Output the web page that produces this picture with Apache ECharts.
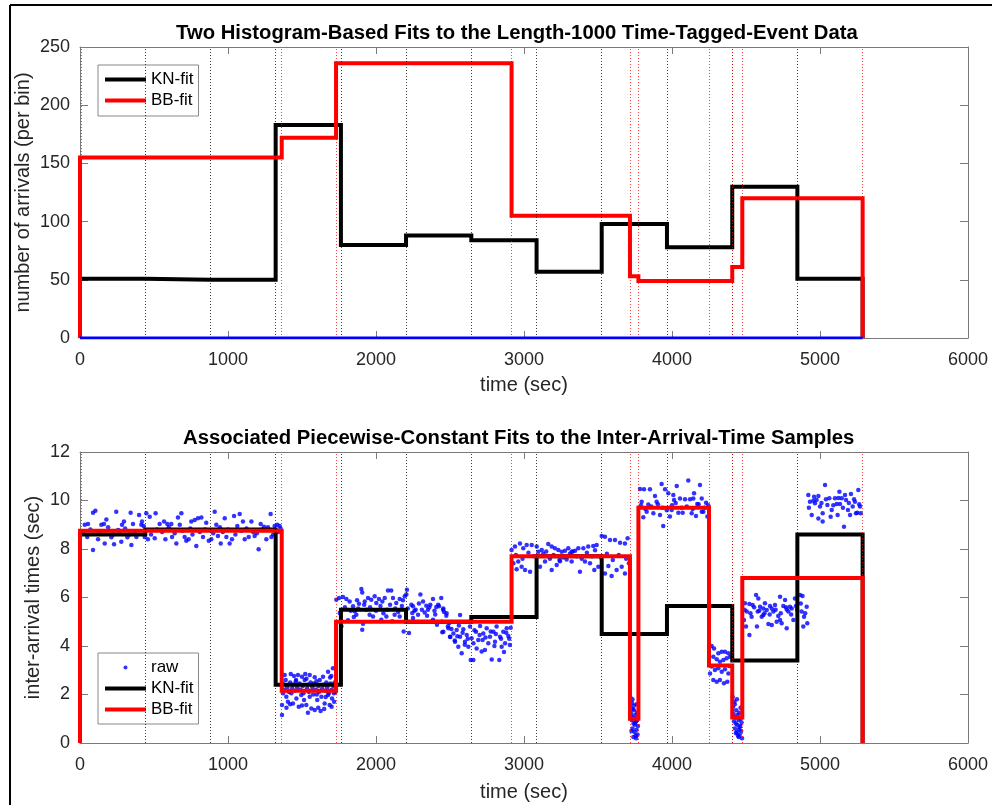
<!DOCTYPE html>
<html><head><meta charset="utf-8">
<script src="https://cdn.jsdelivr.net/npm/echarts@6/dist/echarts.min.js"></script>
<style>html,body{margin:0;padding:0;background:#fff}#c{width:992px;height:805px}</style>
</head><body><div id="c"></div>
<script>
// ---- data ----
const knEdges = [0,441,881,1322,1763,2203,2644,3085,3525,3966,4407,4847,5288];
const knCounts = [51,50,50,183,80,88,84,57,98,78,130,51];
const knIAT = [8.6,8.8,8.8,2.4,5.5,5.0,5.2,7.7,4.5,5.65,3.4,8.6];
const bbCountEdges = [0,1363,1730,2916,3716,3773,4407,4475,5288];
const bbCounts = [155,172,236,105,53,49,61,120];
const bbIATEdges = [0,1363,1730,2916,3716,3773,4250,4407,4475,5288];
const bbIAT = [8.75,2.15,5.0,7.7,1.0,9.7,3.2,1.05,6.8];
const knChangePoints = [441,881,1322,1763,2203,2644,3085,3525,3966,4407,4847];
const bbChangePoints = [7,1363,1730,2916,3716,3773,4250,4407,4475,5288];
const eventSpan = [0,5288];
const titles = ['Two Histogram-Based Fits to the Length-1000 Time-Tagged-Event Data',
                'Associated Piecewise-Constant Fits to the Inter-Arrival-Time Samples'];
const rawPoints = [
// segment 1
[32,9.0],[54,9.03],[88,9.5],[104,9.58],[49,8.5],[88,7.96],[122,8.4],[144,9.0],[162,9.03],[178,9.22],[167,8.23],[212,8.48],[230,8.2],[245,9.54],[257,8.78],[284,9.0],[297,9.13],[279,8.3],[320,8.48],[342,9.5],[347,8.16],[358,9.03],[381,8.5],[399,9.4],[414,9.0],[419,9.13],[437,8.5],[448,9.47],[471,9.33],[459,8.4],[511,9.47],[505,8.44],[538,9.03],[568,9.13],[590,9.03],[577,8.4],[617,9.03],[622,8.5],[651,8.23],[662,9.3],[674,9.0],[685,9.47],[707,8.5],[718,8.34],[734,8.4],[752,9.13],[775,9.2],[786,8.12],[797,9.27],[820,9.3],[831,8.5],[853,9.08],[870,8.34],[887,8.4],[910,9.54],[921,9.0],[932,8.54],[951,8.23],[978,9.27],[989,8.5],[1011,8.23],[1027,8.4],[1041,9.36],[1063,8.95],[1079,9.44],[1101,9.13],[1113,8.4],[1140,8.5],[1158,9.13],[1180,8.54],[1207,7.99],[1221,9.03],[1243,8.92],[1259,8.4],[1288,9.44],[1293,8.5],[1315,8.95],[1333,9.0],[1349,8.95],
[20,8.7],[70,8.8],[130,8.65],[190,8.9],[225,8.6],[265,8.75],[305,8.85],[335,8.6],[370,8.7],[430,8.95],[480,8.6],[520,8.8],[555,8.7],[600,8.9],[640,8.65],[690,8.75],[745,8.85],[760,8.6],[810,8.7],[845,8.8],[900,8.65],[945,8.9],[965,8.7],[1000,8.8],[1050,8.6],[1090,8.75],[1125,8.85],[1170,8.7],[1195,8.65],[1230,8.8],[1270,8.9],[1305,8.6],[1340,8.7],[1355,8.85],
// segment 2
[1383,2.8],[1424,2.85],[1446,2.76],[1473,2.8],[1500,2.73],[1522,2.85],[1552,2.8],[1586,2.71],[1642,2.73],[1676,2.94],[1698,2.76],[1709,3.08],[1372,2.05],[1365,1.57],[1365,1.15],[1394,1.91],[1405,1.7],[1428,2.05],[1439,1.63],[1462,1.84],[1478,1.5],[1495,1.98],[1514,1.77],[1529,1.57],[1552,1.91],[1563,1.42],[1586,1.36],[1603,1.77],[1626,1.32],[1631,1.91],[1653,1.63],[1676,1.98],[1687,1.57],[1703,1.84],[1716,2.05],
[1370,2.45],[1378,2.2],[1390,2.6],[1400,2.3],[1412,2.1],[1420,2.5],[1433,2.25],[1441,2.4],[1452,2.15],[1458,2.55],[1467,2.3],[1484,2.45],[1490,2.2],[1505,2.35],[1510,2.05],[1518,2.6],[1535,2.25],[1541,2.4],[1547,2.1],[1558,2.5],[1570,2.3],[1575,2.0],[1580,2.45],[1594,2.2],[1598,2.55],[1610,2.35],[1615,2.1],[1620,2.6],[1636,2.25],[1646,2.4],[1658,2.15],[1664,2.5],[1670,2.3],[1681,2.05],[1692,2.45],[1700,2.2],[1712,2.35],[1720,2.5],[1725,2.1],[1460,2.6],[1530,2.65],[1600,2.0],[1660,1.9],[1690,2.7],[1395,1.45],[1420,1.6],[1500,1.55],[1540,1.25],[1610,1.45],[1650,1.4],[1700,1.5],[1717,1.7],
// segment 3
[1732,5.91],[1750,5.98],[1777,6.02],[1800,5.94],[1822,5.84],[1845,5.64],[1872,5.89],[1885,5.74],[1901,6.35],[1907,6.21],[1924,5.84],[1935,5.5],[1946,5.98],[1968,5.91],[1991,6.05],[2002,5.77],[2020,5.94],[2043,5.84],[2059,5.98],[2081,6.29],[2103,6.29],[2115,5.98],[2137,5.77],[2160,5.94],[2182,5.89],[2194,6.05],[2205,6.12],[2209,6.32],[2239,5.7],[2250,5.64],[2268,5.5],[2300,6.12],[2318,5.84],[2340,5.66],[2351,5.5],[2367,5.7],[2385,5.94],[2407,5.61],[2426,5.64],[2441,5.98],[2453,5.5],[2475,5.25],
[1755,5.36],[1766,4.81],[1811,5.06],[1856,5.43],[1867,5.29],[1907,4.67],[1912,4.92],[1957,5.29],[1980,5.22],[2036,5.08],[2070,5.22],[2110,5.02],[2126,5.29],[2160,5.22],[2187,4.6],[2223,4.54],[2245,5.36],[2284,5.29],[2329,5.38],[2385,5.08],[2412,4.88],[2448,4.57],[2486,4.81],[2502,4.37],[2532,4.23],
[1790,5.6],[1830,5.45],[1880,5.55],[1920,5.7],[1960,5.6],[2000,5.45],[2030,5.65],[2075,5.5],[2095,5.7],[2130,5.55],[2150,5.4],[2175,5.65],[2215,5.55],[2260,5.45],[2290,5.75],[2310,5.5],[2360,5.6],[2395,5.45],[2420,5.7],[2460,5.4],[1850,5.2],[2050,5.35],[2250,5.15],[2345,5.25],[2400,5.3],
// segment 3b
[2455,5.55],[2477,5.35],[2568,5.28],[2444,5.0],[2455,4.59],[2489,4.73],[2500,4.38],[2523,4.52],[2534,4.18],[2545,4.66],[2556,3.97],[2568,4.38],[2579,3.7],[2590,4.69],[2601,4.18],[2613,4.45],[2624,3.97],[2635,4.8],[2640,3.42],[2646,4.32],[2658,3.42],[2658,4.11],[2676,4.59],[2691,4.25],[2703,4.82],[2714,3.77],[2725,4.52],[2736,3.84],[2748,4.73],[2759,4.11],[2770,4.38],[2782,3.44],[2793,4.59],[2804,4.18],[2815,4.8],[2833,3.42],[2838,4.38],[2849,3.97],[2860,4.59],[2872,4.11],[2883,4.73],[2894,4.41],[2905,4.04],
[2510,4.7],[2550,4.4],[2585,4.55],[2620,4.3],[2665,4.65],[2700,4.45],[2740,4.35],[2775,4.6],[2810,4.5],[2845,4.3],[2880,4.55],[2910,4.75],[2495,4.95],[2560,4.85],[2600,4.05],[2680,3.9],[2720,4.25],[2800,4.0],[2865,3.75],[2900,4.3],
// segment 4
[2916,7.96],[2939,8.1],[2973,8.23],[2995,8.03],[3018,8.16],[3052,8.16],[3086,8.1],[3097,7.89],[3120,7.96],[3164,8.21],[3187,8.1],[3209,8.03],[3232,7.96],[3255,7.89],[3277,7.93],[3299,8.03],[3322,7.89],[3345,7.93],[3367,8.03],[3401,8.03],[3434,8.1],[3468,8.12],[3491,8.16],[3525,8.54],[3547,8.51],[3581,8.37],[3615,8.37],[3649,8.26],[3682,8.23],[3700,8.44],
[2928,7.41],[2961,7.48],[2984,7.27],[3007,7.13],[3041,7.06],[2950,7.16],[3108,7.27],[3142,7.48],[3187,7.13],[3221,7.34],[3243,7.5],[3288,7.57],[3322,7.48],[3378,7.06],[3412,7.48],[3446,7.41],[3475,7.13],[3502,7.27],[3547,6.99],[3570,7.3],[3592,6.89],[3626,7.13],[3660,7.27],[3682,6.99],[3709,7.41],
[2945,7.75],[2990,7.6],[3030,7.85],[3065,7.7],[3130,7.8],[3175,7.6],[3200,7.75],[3265,7.65],[3310,7.8],[3355,7.7],[3390,7.6],[3425,7.85],[3460,7.7],[3520,7.65],[3560,7.8],[3600,7.55],[3640,7.75],[3690,7.6],[3150,7.9],[3240,7.55],[3330,7.9],[3480,7.95],
// segment 5
[3718,1.9],[3722,1.45],[3725,1.2],[3728,0.95],[3731,1.65],[3734,0.6],[3737,1.05],[3740,0.8],[3743,1.35],[3746,0.45],[3749,0.75],[3752,1.15],[3755,0.3],[3758,0.9],[3761,0.55],[3764,1.25],[3767,0.35],[3770,0.7],[3733,1.8],[3745,1.55],[3757,0.2],[3765,0.95],[3726,0.5],[3739,0.25],[3751,0.85],[3762,1.6],[3720,1.1],[3736,1.4],
// segment 6
[3784,10.47],[3811,10.46],[3851,10.46],[3795,9.95],[3840,9.84],[3806,9.31],[3829,9.54],[3885,10.19],[3896,9.95],[3874,9.47],[3919,9.4],[3930,10.68],[3953,10.46],[3941,8.95],[3975,10.3],[3986,9.34],[3998,9.61],[4009,10.23],[4014,10.02],[4032,10.6],[4043,9.5],[4054,10.08],[4072,9.5],[4088,10.05],[4110,10.82],[4122,10.05],[4133,9.47],[4149,10.3],[4144,10.08],[4162,9.36],[4171,9.86],[4189,10.64],[4201,9.54],[4212,9.54],[4230,9.91],[4239,9.34],[4201,10.08],
[3790,9.8],[3820,9.65],[3860,9.75],[3905,9.85],[3935,9.7],[3965,9.6],[4000,9.8],[4025,9.9],[4065,9.7],[4100,9.75],[4140,9.65],[4180,9.85],[4220,9.7],[4245,9.8],
// segment 7
[4268,4.0],[4284,3.9],[4313,3.7],[4336,3.76],[4358,3.76],[4381,3.7],[4279,3.56],[4302,3.45],[4324,3.35],[4347,3.42],[4369,3.49],[4392,3.56],[4268,3.15],[4290,3.01],[4313,3.08],[4336,2.94],[4358,3.04],[4381,2.87],[4279,2.6],[4302,2.53],[4324,2.6],[4351,2.46],[4374,2.53],[4257,2.87],[4387,3.18],
// segment 8
[4410,1.9],[4413,1.5],[4416,1.2],[4419,0.9],[4422,1.7],[4425,0.6],[4428,1.05],[4431,0.8],[4434,1.35],[4437,0.45],[4440,0.75],[4443,1.15],[4446,0.3],[4449,0.95],[4452,0.55],[4455,1.25],[4458,0.35],[4461,0.7],[4464,1.0],[4467,0.5],[4470,0.85],[4473,0.2],[4424,1.6],[4439,1.8],[4451,0.25],[4463,1.45],[4432,0.4],[4457,0.65],
// segment 9
[4493,5.76],[4505,5.42],[4486,5.07],[4500,4.8],[4523,4.45],[4523,5.73],[4545,5.69],[4538,5.21],[4568,6.1],[4574,4.8],[4579,5.42],[4583,5.96],[4595,5.62],[4606,5.21],[4617,5.55],[4628,5.76],[4640,5.48],[4651,4.91],[4662,5.65],[4674,4.87],[4685,5.42],[4696,5.69],[4707,5.0],[4718,5.24],[4730,6.03],[4741,4.94],[4752,5.65],[4764,5.9],[4775,4.73],[4786,5.42],[4797,5.62],[4809,5.55],[4820,5.07],[4831,5.96],[4838,5.65],[4865,6.1],[4876,5.42],[4882,6.06],[4892,5.21],[4910,5.62],[4914,4.94],[4887,4.8],[4617,5.28],[4674,5.55],[4775,5.51],[4730,5.07],
[4490,5.5],[4530,5.35],[4555,5.6],[4590,5.45],[4625,5.35],[4660,5.3],[4700,5.5],[4735,5.35],[4770,5.6],[4805,5.3],[4845,5.5],[4870,5.75],[4900,5.35],
// segment 10
[4921,10.23],[4932,9.95],[4944,9.4],[4955,9.99],[4966,9.89],[4977,10.02],[4989,10.19],[5000,9.75],[4989,9.26],[5018,9.13],[5018,9.47],[5034,10.64],[5050,9.81],[5063,10.09],[5072,9.33],[5079,9.61],[5101,10.09],[5113,9.86],[5119,9.4],[5131,10.36],[5135,9.86],[5147,10.09],[5162,8.92],[5169,10.23],[5176,10.02],[5189,9.61],[5203,9.4],[5209,10.27],[5221,9.75],[5236,9.95],[5243,9.47],[5252,9.5],[5259,10.43],[5270,9.75],[5275,9.47],
[4925,9.7],[4960,10.15],[5010,9.9],[5040,10.05],[5090,9.8],[5125,10.1],[5155,9.7],[5195,9.9],[5230,10.05],[5265,9.85]
];

// ---- build ----
function stairs(edges, vals){
  const d = [[edges[0],0]];
  for (let i=0;i<vals.length;i++){ d.push([edges[i],vals[i]]); d.push([edges[i+1],vals[i]]); }
  d.push([edges[edges.length-1],0]);
  return d;
}
const FONT = '"Liberation Sans", Arial, sans-serif';
const AX = '#7a7a7a';
const LBL = {color:'#262626', fontSize:18, fontFamily:FONT, formatter:v=>String(v)};
const NAME = {color:'#262626', fontSize:20, fontFamily:FONT};
function vLines(points, color){
  return {silent:true, symbol:['none','none'], label:{show:false}, animation:false,
    lineStyle:{color:color, width:1, type:[1,2], opacity:0.75},
    data: points.map(p=>({xAxis:p}))};
}
function xAx(grid, pos, show, name, nameGap){
  return {type:'value', gridIndex:grid, position:pos, min:0, max:6000, interval:1000,
    axisLine:{show:true, onZero:false, lineStyle:{color:AX,width:1}},
    axisTick:{show:true, inside:true, length:7, lineStyle:{color:AX}},
    axisLabel:{show:show, margin:13, ...LBL},
    splitLine:{show:false},
    name: show?name:'', nameLocation:'middle', nameGap:nameGap, nameTextStyle:NAME};
}
function yAx(grid, pos, show, max, interval, name, nameGap){
  return {type:'value', gridIndex:grid, position:pos, min:0, max:max, interval:interval,
    axisLine:{show:true, onZero:false, lineStyle:{color:AX,width:1}},
    axisTick:{show:true, inside:true, length:8, lineStyle:{color:AX}},
    axisLabel:{show:show, margin:10, ...LBL},
    splitLine:{show:false},
    name: show?name:'', nameLocation:'middle', nameGap:nameGap, nameMoveOverlap:false, nameTextStyle:NAME};
}
const option = {
  animation:false,
  backgroundColor:'#fff',
  title:[
    {text:titles[0], left:176, top:23, padding:0, textStyle:{fontSize:20.3, fontWeight:'bold', color:'#000', fontFamily:FONT}},
    {text:titles[1], left:183, top:428, padding:0, textStyle:{fontSize:20.3, fontWeight:'bold', color:'#000', fontFamily:FONT}}
  ],
  grid:[
    {left:80, top:47, width:888, height:291},
    {left:80, top:452, width:888, height:291}
  ],
  xAxis:[ xAx(0,'bottom',true,'time (sec)',37), xAx(0,'top',false,'',0),
          xAx(1,'bottom',true,'time (sec)',39), xAx(1,'top',false,'',0) ],
  yAxis:[ yAx(0,'left',true,250,50,'number of arrivals (per bin)',47), yAx(0,'right',false,250,50,'',0),
          yAx(1,'left',true,12,2,'inter-arrival times (sec)',37), yAx(1,'right',false,12,2,'',0) ],
  legend:[
    {data:[{name:'KN-fit',icon:'rect'},{name:'BB-fit',icon:'rect'}], orient:'vertical', left:98, top:65,
     itemWidth:41, itemHeight:4, itemGap:4, padding:[6,5,7,7], borderColor:'#888', borderWidth:1, backgroundColor:'#fff',
     selectedMode:false, textStyle:{fontSize:17, color:'#000', fontFamily:FONT}},
    {data:[{name:'raw',icon:'circle'},{name:'KN-fit',icon:'rect'},{name:'BB-fit',icon:'rect'}], orient:'vertical', left:98, top:653,
     itemWidth:41, itemHeight:4, itemGap:4, padding:[6,5,6,7], borderColor:'#888', borderWidth:1, backgroundColor:'#fff',
     selectedMode:false, textStyle:{fontSize:17, color:'#000', fontFamily:FONT}}
  ],
  graphic:[
    {type:'line', shape:{x1:10,y1:5,x2:992,y2:5}, style:{stroke:'#000', lineWidth:2}, silent:true},
    {type:'line', shape:{x1:10,y1:5,x2:10,y2:805}, style:{stroke:'#000', lineWidth:2}, silent:true}
  ],
  series:[
    {name:'KN-fit', type:'line', xAxisIndex:0, yAxisIndex:0, data:stairs(knEdges,knCounts), symbol:'none', z:3,
     color:'#000', lineStyle:{color:'#000', width:4, join:'miter'}, markLine:vLines(knChangePoints,'#000')},
    {name:'BB-fit', type:'line', xAxisIndex:0, yAxisIndex:0, data:stairs(bbCountEdges,bbCounts), symbol:'none', z:4,
     color:'#ff0000', lineStyle:{color:'#ff0000', width:4, join:'miter'}, markLine:vLines(bbChangePoints,'#ff0000')},
    {name:'events', type:'line', xAxisIndex:0, yAxisIndex:0, data:eventSpan.map(t=>[t,0]), symbol:'none', z:5,
     color:'#0000ff', lineStyle:{color:'#0000ff', width:3}},
    {name:'raw', type:'scatter', xAxisIndex:2, yAxisIndex:2, data:rawPoints, symbolSize:4.5, z:2,
     itemStyle:{color:'#0000ff'}},
    {name:'KN-fit', type:'line', xAxisIndex:2, yAxisIndex:2, data:stairs(knEdges,knIAT), symbol:'none', z:3,
     color:'#000', lineStyle:{color:'#000', width:4, join:'miter'}, markLine:vLines(knChangePoints,'#000')},
    {name:'BB-fit', type:'line', xAxisIndex:2, yAxisIndex:2, data:stairs(bbIATEdges,bbIAT), symbol:'none', z:4,
     color:'#ff0000', lineStyle:{color:'#ff0000', width:4, join:'miter'}, markLine:vLines(bbChangePoints,'#ff0000')}
  ]
};
const chart = echarts.init(document.getElementById('c'), null, {renderer:'canvas'});
chart.setOption(option);
</script>
</body></html>
